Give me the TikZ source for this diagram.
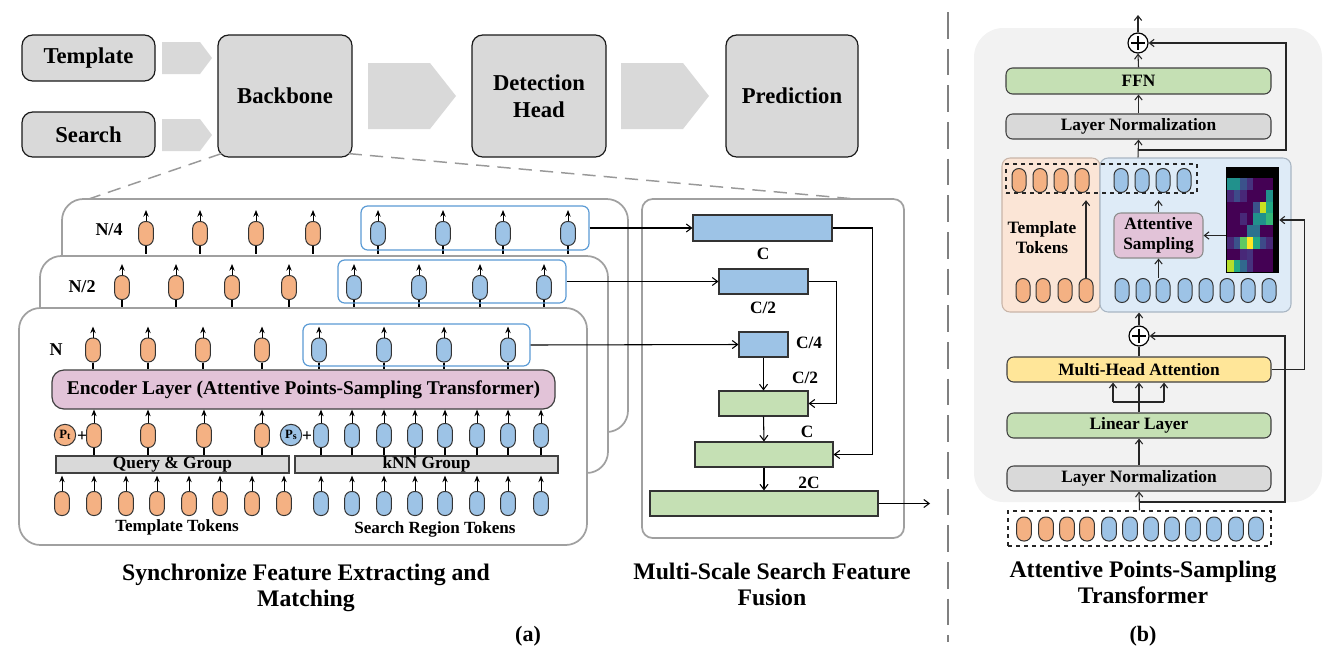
\documentclass[tikz,border=0pt]{standalone}
\usepackage{fontspec}
\setmainfont{Liberation Serif}
\usetikzlibrary{arrows.meta,fit,calc}
\definecolor{boxgray}{HTML}{D9D9D9}
\definecolor{chevgray}{HTML}{D9D9D9}
\definecolor{tokorange}{HTML}{F4B183}
\definecolor{tokblue}{HTML}{9DC3E6}
\definecolor{grpblue}{HTML}{5B9BD5}
\definecolor{encpink}{HTML}{E2C3D8}
\definecolor{fgreen}{HTML}{C5E0B4}
\definecolor{myellow}{HTML}{FFE699}
\definecolor{panelgray}{HTML}{A0A0A0}
\definecolor{rbg}{HTML}{F2F2F2}
\definecolor{oregF}{HTML}{FBE5D6}
\definecolor{oregD}{HTML}{C9B5A8}
\definecolor{bregF}{HTML}{DEEBF7}
\definecolor{bregD}{HTML}{A9B6C3}
\definecolor{hmD}{HTML}{440154}
\definecolor{hmPa}{HTML}{482878}
\definecolor{hmPb}{HTML}{46327E}
\definecolor{hmBa}{HTML}{3E4A89}
\definecolor{hmBb}{HTML}{3B528B}
\definecolor{hmBT}{HTML}{31688E}
\definecolor{hmTa}{HTML}{2C728E}
\definecolor{hmTb}{HTML}{21918C}
\definecolor{hmTG}{HTML}{22A884}
\definecolor{hmG}{HTML}{35B779}
\definecolor{hmLG}{HTML}{5EC962}
\definecolor{hmYG}{HTML}{B5DE2B}
\definecolor{hmYH}{HTML}{C8E020}
\definecolor{hmY}{HTML}{FDE725}
% box from corner coordinates (pixels): style, name, x1, y1, x2, y2, text
\newcommand{\bx}[7]{\node[#1, minimum width={(#5-#3)*0.75pt}, minimum height={(#6-#4)*0.75pt}] (#2) at ({(#3+#5)/2},{(#4+#6)/2}) {#7};}
\tikzset{
  topbox/.style={draw=black!90, line width=0.9pt, fill=boxgray, rounded corners=8pt, inner sep=0pt, align=center, font=\fontsize{17}{20}\selectfont\bfseries},
  chev/.style={fill=chevgray},
  zoomline/.style={draw=black!40, line width=1.1pt, dash pattern=on 10pt off 6pt},
  panel/.style={draw=panelgray, line width=1.3pt, fill=white, rounded corners=16pt, inner sep=0pt},
  tokbase/.style={draw=black!80, line width=0.75pt, rounded corners=5.2pt, minimum width=11pt, minimum height=18pt, inner sep=0pt},
  tokO/.style={tokbase, fill=tokorange},
  tokB/.style={tokbase, fill=tokblue},
  tokarr/.style={draw=black, line width=0.7pt, -{Stealth[length=5pt,width=4pt]}},
  stem/.style={draw=black, line width=0.8pt},
  grp/.style={draw=grpblue, line width=0.9pt, rounded corners=5pt, inner sep=0pt},
  nlab/.style={font=\fontsize{13.5}{15}\selectfont\bfseries},
  enc/.style={draw=black!75, line width=0.9pt, fill=encpink, rounded corners=9pt, inner sep=0pt, font=\fontsize{14.6}{16}\selectfont\bfseries},
  grpbar/.style={draw=black!75, line width=0.8pt, fill=boxgray, inner sep=0pt, font=\fontsize{13}{14}\selectfont\bfseries},
  poscirc/.style={circle, draw=black!80, line width=0.75pt, minimum size=16pt, inner sep=0pt, font=\fontsize{9.5}{10}\selectfont\bfseries},
  plustxt/.style={font=\fontsize{13}{14}\selectfont\bfseries, inner sep=0pt},
  toklab/.style={font=\fontsize{12.8}{14}\selectfont\bfseries},
  fbox/.style={draw=black!80, line width=0.8pt, inner sep=0pt},
  flab/.style={font=\fontsize{13}{14}\selectfont\bfseries},
  farr/.style={draw=black, line width=0.8pt, -{Straight Barb[length=4pt,width=6pt]}},
  captxt/.style={align=center, font=\fontsize{17.8}{19.5}\selectfont\bfseries},
  sublab/.style={font=\fontsize{16.5}{18}\selectfont\bfseries},
  divider/.style={draw=black!50, line width=2.2pt, dash pattern=on 20pt off 7.5pt},
  rbox/.style={draw=black!75, line width=0.8pt, rounded corners=5pt, inner sep=0pt, align=center, font=\fontsize{13}{15}\selectfont\bfseries},
  region/.style={line width=0.8pt, rounded corners=6pt, inner sep=0pt},
  dbox/.style={draw=black!85, line width=0.8pt, dashed, inner sep=0pt},
  rarr/.style={draw=black!85, line width=0.8pt, -{Straight Barb[length=3.5pt,width=5.5pt]}},
  rline/.style={draw=black!85, line width=0.8pt},
  plusnode/.style={circle, draw=black, line width=0.9pt, fill=white, minimum size=15pt, inner sep=0pt,
    path picture={\draw[line width=0.9pt] ([yshift=-2.5pt]path picture bounding box.north) -- ([yshift=2.5pt]path picture bounding box.south) ([xshift=2.5pt]path picture bounding box.west) -- ([xshift=-2.5pt]path picture bounding box.east);}},
}
\begin{document}
\begin{tikzpicture}[x=0.75pt,y=-0.75pt]
\useasboundingbox (0,0) rectangle (1333,661);

% ---------------- top pipeline ----------------
\bx{topbox}{tpl}{22}{35}{155}{81}{Template}
\bx{topbox}{srch}{22}{112}{155}{157}{Search}
\bx{topbox}{bb}{218}{35}{352}{157}{Backbone}
\bx{topbox}{dh}{472}{35}{606}{157}{Detection\\Head}
\bx{topbox}{pred}{726}{35}{858}{157}{Prediction}
\fill[chev] (162,42) -- (200,42) -- (212,58) -- (200,74) -- (162,74) -- cycle;
\fill[chev] (162,119) -- (200,119) -- (212,135) -- (200,151) -- (162,151) -- cycle;
\fill[chev] (368,63) -- (430,63) -- (456,96) -- (430,129) -- (368,129) -- cycle;
\fill[chev] (621,63) -- (683,63) -- (709,96) -- (683,129) -- (621,129) -- cycle;

\coordinate (zl) at (80,202);
\coordinate (zr) at (900,203);
\draw[zoomline] ([shift={(4,-4)}]bb.south west) -- (zl);
\draw[zoomline] ([shift={(-4,-4)}]bb.south east) -- (zr);

% ---------------- N/4 panel ----------------
\bx{panel}{p4}{62}{199}{628}{432}{}
\node[nlab] (l4) at (109,230) {N/4};
\foreach \x [count=\i] in {146,200,256,313} {
  \node[tokO] (a4o\i) at (\x,233.5) {};
  \draw[tokarr] (a4o\i.north) -- ++(0,-11);
  \draw[stem] (a4o\i.south) -- ++(0,8);
}
\foreach \x [count=\i] in {378,443,503,568} {
  \node[tokB] (a4b\i) at (\x,233.5) {};
  \draw[tokarr] (a4b\i.north) -- ++(0,-11);
  \draw[stem] (a4b\i.south) -- ++(0,8);
}
\bx{grp}{g4}{361}{206}{589}{250}{}

% ---------------- N/2 panel ----------------
\bx{panel}{p2}{40}{256}{608}{473}{}
\node[nlab] (l2) at (82,287) {N/2};
\foreach \x [count=\i] in {122,176,232,289} {
  \node[tokO] (a2o\i) at (\x,287.5) {};
  \draw[tokarr] (a2o\i.north) -- ++(0,-11);
  \draw[stem] (a2o\i.south) -- ++(0,8);
}
\foreach \x [count=\i] in {354,419,480,544} {
  \node[tokB] (a2b\i) at (\x,287.5) {};
  \draw[tokarr] (a2b\i.north) -- ++(0,-11);
  \draw[stem] (a2b\i.south) -- ++(0,8);
}
\bx{grp}{g2}{338}{260}{566}{303}{}

% ---------------- N panel ----------------
\bx{panel}{p1}{19}{308}{587}{545}{}
\node[nlab] (l1) at (56,350) {N};
\bx{enc}{enc}{52}{370}{555}{409}{Encoder Layer (Attentive Points-Sampling Transformer)}
\foreach \x [count=\i] in {93,148,203,262} {
  \node[tokO] (a1o\i) at (\x,350) {};
  \draw[tokarr] (a1o\i.north) -- ++(0,-11);
  \draw[stem] (a1o\i.south) -- (a1o\i.south |- enc.north);
}
\foreach \x [count=\i] in {319,384,444,508} {
  \node[tokB] (a1b\i) at (\x,350) {};
  \draw[tokarr] (a1b\i.north) -- ++(0,-11);
  \draw[stem] (a1b\i.south) -- (a1b\i.south |- enc.north);
}
\bx{grp}{g1}{303}{324}{530}{366}{}

\bx{grpbar}{qg}{56}{456}{289}{473}{Query \& Group}
\bx{grpbar}{knn}{295}{456}{558}{473}{kNN Group}

\foreach \x [count=\i] in {94,148,204,262} {
  \node[tokO] (mo\i) at (\x,435.5) {};
  \draw[tokarr] (mo\i.north) -- (mo\i.north |- enc.south);
  \draw[stem] (mo\i.south) -- (mo\i.south |- qg.north);
}
\foreach \x [count=\i] in {321,352,384,415,445,477,508,541} {
  \node[tokB] (mb\i) at (\x,435.5) {};
  \draw[tokarr] (mb\i.north) -- (mb\i.north |- enc.south);
  \draw[stem] (mb\i.south) -- (mb\i.south |- knn.north);
}
\node[poscirc, fill=tokorange] (pt) at (65,435) {P\raisebox{-1.2pt}{\fontsize{7.5}{8}\selectfont t}};
\node[plustxt] (ptplus) at (82,437) {+};
\node[poscirc, fill=tokblue] (ps) at (291,435) {P\raisebox{-1.2pt}{\fontsize{7.5}{8}\selectfont s}};
\node[plustxt] (psplus) at (307,437) {+};

\foreach \x [count=\i] in {62,94,126,157,189,220,252,284} {
  \node[tokO] (bo\i) at (\x,503.5) {};
  \draw[tokarr] (bo\i.north) -- ([yshift=-1.5pt]bo\i.north |- qg.south);
}
\foreach \x [count=\i] in {321,352,384,415,445,477,508,541} {
  \node[tokB] (bbt\i) at (\x,503.5) {};
  \draw[tokarr] (bbt\i.north) -- ([yshift=-1.5pt]bbt\i.north |- knn.south);
}
\node[toklab] (tt) at (177,527) {Template Tokens};
\node[toklab] (srt) at (435,529) {Search Region Tokens};

% ---------------- fusion panel ----------------
\bx{panel, rounded corners=8pt}{fp}{642}{199}{904}{538}{}
\bx{fbox, fill=tokblue}{fb1}{693}{215}{832}{241}{}
\bx{fbox, fill=tokblue}{fb2}{719}{269}{808}{294}{}
\bx{fbox, fill=tokblue}{fb3}{739}{332}{788}{357}{}
\bx{fbox, fill=fgreen}{fg1}{719}{391}{808}{416}{}
\bx{fbox, fill=fgreen}{fg2}{695}{442}{833}{467}{}
\bx{fbox, fill=fgreen}{fg3}{650}{491}{878}{516}{}
\node[flab] (c1) at (763,254) {C};
\node[flab] (c2) at (763,308) {C/2};
\node[flab] (c3) at (809,343) {C/4};
\node[flab] (c4) at (805,378) {C/2};
\node[flab] (c5) at (807,432) {C};
\node[flab] (c6) at (809,483) {2C};
\draw[farr] (g4.east) -- (fb1.west);
\draw[farr] (g2.east) -- (fb2.west);
\draw[farr] (g1.east) -- (fb3.west);
\draw[farr] (fb1.east) -- ++(40,0) |- (fg2.east);
\draw[farr] (fb2.east) -- ++(28,0) |- (fg1.east);
\draw[farr] (fb3.south) -- (fg1.north);
\draw[farr] (fg1.south) -- (fg2.north);
\draw[farr] (fg2.south) -- (fg3.north);
\coordinate (fout) at (930,503.5);
\draw[farr] (fg3.east) -- (fout);

% ---------------- captions ----------------
\node[captxt] (capa) at (306,588) {Synchronize Feature Extracting and\\Matching};
\node[captxt] (capf) at (772,584) {Multi-Scale Search Feature\\Fusion};
\node[sublab] (suba) at (528,636) {(a)};
\node[captxt] (capb) at (1143,582) {Attentive Points-Sampling\\Transformer};
\node[sublab] (subb) at (1143,636) {(b)};

\draw[divider] (948,12) -- (948,642);

% ---------------- right panel ----------------
\fill[rbg, rounded corners=22pt] (974,28) rectangle (1322,502);
\bx{region, fill=oregF, draw=oregD}{oreg}{1002}{158}{1100}{312}{}
\bx{region, fill=bregF, draw=bregD}{breg}{1100}{158}{1291}{312}{}
\foreach \x [count=\i] in {1019,1040,1061,1082} {
  \node[tokO, minimum width=10.5pt] (rto\i) at (\x,180.5) {};
}
\foreach \x [count=\i] in {1121,1142,1163,1184} {
  \node[tokB, minimum width=10.5pt] (rtb\i) at (\x,180.5) {};
}
\bx{dbox}{dbt}{1006}{164}{1197}{193}{}
\foreach \x [count=\i] in {1023,1043,1065,1086} {
  \node[tokO, minimum width=10.5pt] (rbo\i) at (\x,290.5) {};
}
\foreach \x [count=\i] in {1122,1143,1163,1185,1206,1227,1248,1269} {
  \node[tokB, minimum width=10.5pt] (rbb\i) at (\x,290.5) {};
}
\node[rbox, draw=none] (ttl) at (1042,238) {Template\\Tokens};
\bx{rbox, draw=black!45, fill=encpink}{as}{1114}{213}{1203}{258}{Attentive\\Sampling}
\bx{fill=black, inner sep=0pt}{hm}{1226}{167}{1279}{273}{}
\foreach \row [count=\i from 0] in {{Tb,Tb,Bb,Pb,D,D,D},{Pa,Ba,Pa,D,D,D,Tb},{D,D,D,D,Bb,YH,TG},{D,D,Pa,D,Tb,Tb,G},{D,D,D,Ta,Ta,D,D},{Pa,Bb,LG,Y,TG,Ba,Pa},{D,D,Pa,Pb,D,D,D},{YG,TG,BT,Pb,D,D,D}} {
  \foreach \c [count=\j from 0] in \row {
    \fill[hm\c] ({1227+\j*6.57},{178+\i*11.75}) rectangle ++(6.6,11.8);
  }
}
\draw[rarr] (rbo4.north) -- ([yshift=-5pt]rbo4.north |- dbt.south);
\draw[rarr] (as.south |- rbb3.north) -- (as.south);
\draw[rarr] (as.north) -- ([yshift=-5pt]as.north |- dbt.south);
\draw[rarr] (as.east -| hm.west) -- (as.east);

\bx{rbox, fill=boxgray}{ln2}{1006}{114}{1271}{139}{Layer Normalization}
\bx{rbox, fill=fgreen}{ffn}{1006}{68}{1271}{94}{FFN}
\node[plusnode] (plus1) at (1138,43) {};
\coordinate (topout) at (1138,15);
\draw[rarr] (breg.north -| plus1) -- (ln2.south);
\draw[rarr] (ln2.north) -- (ffn.south);
\draw[rarr] (ffn.north) -- (plus1.south);
\draw[rarr] (plus1.north) -- (topout);
\coordinate (r1) at (1138,150);
\coordinate (r1e) at (1286,150);
\draw[rarr] (r1) -- (r1e) |- (plus1.east);

\node[plusnode] (plus2) at (1139,336) {};
\bx{rbox, fill=myellow}{mha}{1007}{357}{1271}{382}{Multi-Head Attention}
\bx{rbox, fill=fgreen}{lin}{1007}{413}{1271}{438}{Linear Layer}
\bx{rbox, fill=boxgray}{ln1}{1007}{466}{1271}{491}{Layer Normalization}
\bx{dbox}{dbb}{1008}{511}{1271}{546}{}
\foreach \x [count=\i] in {1024,1046,1067,1087} {
  \node[tokO] (ibo\i) at (\x,529) {};
}
\foreach \x [count=\i] in {1109,1130,1151,1172,1193,1214,1236,1256} {
  \node[tokB] (ibb\i) at (\x,529) {};
}
\draw[rarr] (plus2.north) -- (plus2.north |- breg.south);
\draw[rline] (mha.north) -- (plus2.south);
\draw[rarr] (mha.east) -- ++(33,0) |- (hm.east);
\coordinate (sp) at (1139,402);
\coordinate (spl) at (1113,402);
\coordinate (spr) at (1164,402);
\draw[rline] (lin.north) -- (sp);
\draw[rline] (spl) -- (spr);
\draw[rarr] (sp) -- (mha.south);
\draw[rarr] (spl) -- (spl |- mha.south);
\draw[rarr] (spr) -- (spr |- mha.south);
\draw[rarr] (ln1.north) -- (lin.south);
\draw[rarr] (dbb.north) -- (ln1.south);
\coordinate (r2) at (1139,502);
\coordinate (r2e) at (1285,502);
\draw[rarr] (r2) -- (r2e) |- (plus2.east);
\end{tikzpicture}
\end{document}
